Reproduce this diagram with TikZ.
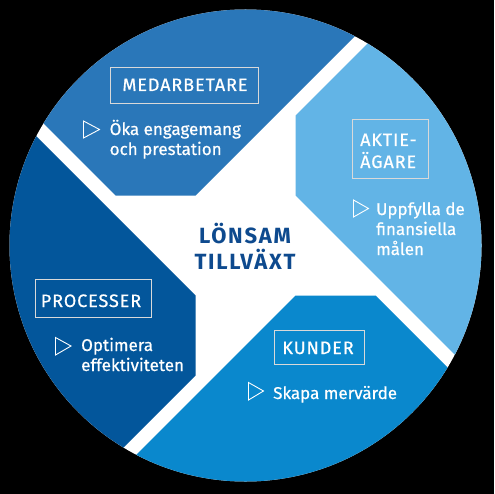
\documentclass[tikz,border=0pt]{standalone}
\usepackage{fontspec}
\setmainfont{Fira Sans}
\newfontfamily\wfont{Fira Sans}[FakeBold=0.6]
\newfontfamily\tfont{Fira Sans}[FakeBold=0.6, LetterSpace=5]
\newfontfamily\cfont{Fira Sans}[LetterSpace=8]
\definecolor{cMed}{HTML}{2A77B9}
\definecolor{cAkt}{HTML}{62B4E6}
\definecolor{cKun}{HTML}{0A88CD}
\definecolor{cPro}{HTML}{03569B}
\definecolor{cCen}{HTML}{0E4A8E}
\tikzset{
  titlebox/.style={draw=white!85!black, line width=0.9pt, inner sep=0pt, fill=none},
  titletext/.style={text=white, font=\tfont\fontsize{18}{21}\selectfont, inner sep=0pt, anchor=base},
  bodytext/.style={text=white, font=\wfont\fontsize{17}{20}\selectfont, inner sep=0pt, anchor=base west},
  centertext/.style={text=cCen, font=\cfont\fontsize{22}{26}\selectfont\bfseries, inner sep=0pt, anchor=base},
  tri/.style={draw=white, line width=0.9pt, line join=miter}
}
\begin{document}
\begin{tikzpicture}[x=1pt,y=-1pt]
\useasboundingbox (0,0) rectangle (494,494);
\fill[black] (0,0) rectangle (494,494);
\coordinate (C) at (245.5,245.5);
\fill[white] (C) circle[radius=236];
\begin{scope}
  \clip (C) circle[radius=236];
  \fill[cMed] (115.5,195.5) -- (195.5,195.5) -- (495.5,-104.5) -- (-184.5,-104.5) -- cycle;
  \fill[cAkt] (295.5,115.5) -- (295.5,195.5) -- (595.5,495.5) -- (595.5,-184.5) -- cycle;
  \fill[cKun] (375.5,295.5) -- (295.5,295.5) -- (-4.5,595.5) -- (675.5,595.5) -- cycle;
  \fill[cPro] (195.5,375.5) -- (195.5,295.5) -- (-104.5,-4.5) -- (-104.5,675.5) -- cycle;
\end{scope}

% MEDARBETARE
\draw[titlebox] (110.5,67.5) rectangle (258,103);
\node[titletext] (medT) at (185,91) {MEDARBETARE};
\draw[tri] (83.5,121) -- (99.5,129.5) -- (83.5,138) -- cycle;
\node[bodytext] (med1) at (109.5,135) {Öka engagemang};
\node[bodytext] (med2) at (109.5,155) {och prestation};

% AKTIEAGARE
\draw[titlebox] (352.5,119.5) rectangle (428,178);
\node[titletext, anchor=base west] (aktT1) at (360,146) {AKTIE-};
\node[titletext, anchor=base west] (aktT2) at (360,168) {ÄGARE};
\draw[tri] (353.5,200) -- (368.5,208.5) -- (353.5,217) -- cycle;
\node[bodytext] (akt1) at (376,215) {Uppfylla de};
\node[bodytext] (akt2) at (376,235) {finansiella};
\node[bodytext] (akt3) at (376,255) {målen};

% CENTER
\node[centertext] (cen1) at (245,243) {LÖNSAM};
\node[centertext] (cen2) at (245,269) {TILLVÄXT};

% PROCESSER
\draw[titlebox] (35.5,279.5) rectangle (151,317);
\node[titletext] (proT) at (91,307) {PROCESSER};
\draw[tri] (55.5,337.5) -- (71,346) -- (55.5,355) -- cycle;
\node[bodytext] (pro1) at (81,351) {Optimera};
\node[bodytext] (pro2) at (81,371) {effektiviteten};

% KUNDER
\draw[titlebox] (274.5,330.5) rectangle (364,364);
\node[titletext] (kunT) at (318,354) {KUNDER};
\draw[tri] (248.5,382.5) -- (263.5,391) -- (248.5,400) -- cycle;
\node[bodytext] (kun1) at (273,399) {Skapa mervärde};
\end{tikzpicture}
\end{document}
